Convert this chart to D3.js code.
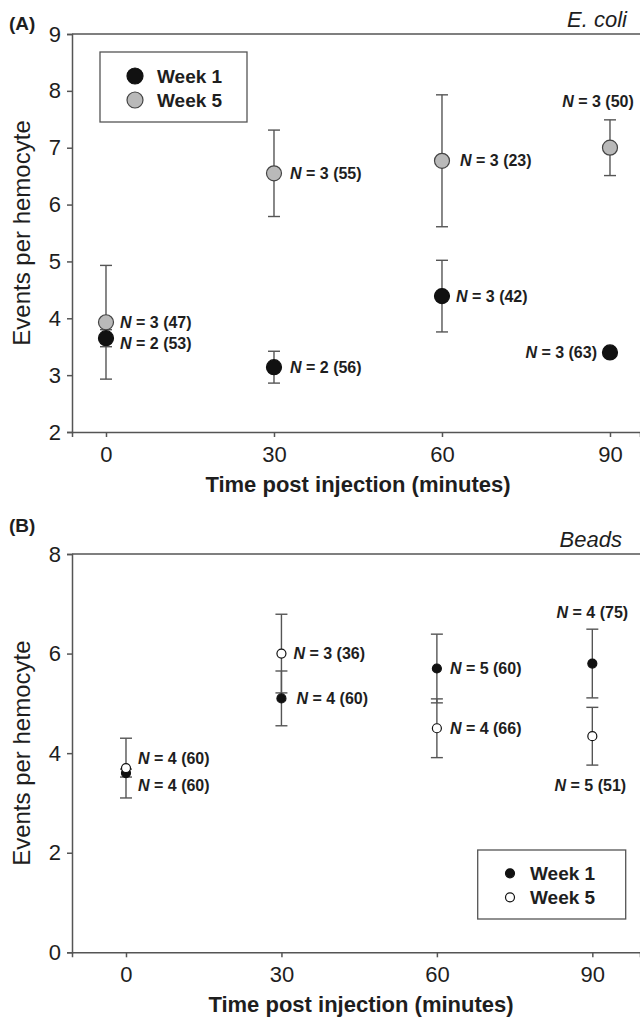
<!DOCTYPE html>
<html><head><meta charset="utf-8">
<script src="https://cdn.jsdelivr.net/npm/d3@7"></script>
<style>
body{margin:0;background:#fff}
svg{display:block}
text{font-family:"Liberation Sans",Arial,Helvetica,sans-serif;fill:#1e1e1e}
</style>
</head><body><svg id="c" width="640" height="1019"></svg>
<script>
// ---------- DATA ----------
const times = [0, 30, 60, 90];
const xTicks = [0, 30, 60, 90];
const seriesNames = ["Week 1", "Week 5"];

// Panel A: E. coli
const ecoliWeek1Mean = [3.65, 3.14, 4.39, 3.40];
const ecoliWeek1Err  = [0.15, 0.28, 0.63, 0.07];
const ecoliWeek5Mean = [3.93, 6.55, 6.77, 7.00];
const ecoliWeek5Err  = [1.00, 0.76, 1.16, 0.49];
const ecoliWeek1N = ["2 (53)", "2 (56)", "3 (42)", "3 (63)"];
const ecoliWeek5N = ["3 (47)", "3 (55)", "3 (23)", "3 (50)"];
const ecoliYTicks = [2, 3, 4, 5, 6, 7, 8, 9];

// Panel B: Beads
const beadsWeek1Mean = [3.60, 5.10, 5.70, 5.80];
const beadsWeek1Err  = [0.08, 0.55, 0.69, 0.69];
const beadsWeek5Mean = [3.70, 6.00, 4.50, 4.34];
const beadsWeek5Err  = [0.60, 0.79, 0.59, 0.58];
const beadsWeek1N = ["4 (60)", "4 (60)", "5 (60)", "4 (75)"];
const beadsWeek5N = ["4 (60)", "3 (36)", "4 (66)", "5 (51)"];
const beadsYTicks = [0, 2, 4, 6, 8];

// ---------- DRAW ----------
const svg = d3.select("#c");
svg.append("rect").attr("width", 640).attr("height", 1019).attr("fill", "#fff");
const AX = "#555";

function panel(cfg) {
  const g = svg.append("g");
  const x = d3.scaleLinear().domain(cfg.xDomain).range([72, 640]);
  const y = d3.scaleLinear().domain(cfg.yDomain).range([cfg.bottom, cfg.top]);

  // frame
  g.append("line").attr("x1", 72).attr("x2", 640).attr("y1", cfg.top).attr("y2", cfg.top)
    .attr("stroke", AX).attr("stroke-width", 1.5);

  const xa = g.append("g").attr("transform", `translate(0,${cfg.bottom})`)
    .call(d3.axisBottom(x).tickValues(xTicks).tickFormat(d3.format("d")).tickSize(5).tickPadding(9));
  const ya = g.append("g").attr("transform", `translate(72,0)`)
    .call(d3.axisLeft(y).tickValues(cfg.yTicks).tickFormat(d3.format("d")).tickSize(5).tickPadding(6));
  [xa, ya].forEach(a => {
    a.select(".domain").attr("stroke", AX).attr("stroke-width", 1.5);
    a.selectAll(".tick line").attr("stroke", AX).attr("stroke-width", 1.5);
    a.selectAll(".tick text").style("font-size", "22px").attr("fill", "#222")
      .style("font-family", '"Liberation Sans",Arial,sans-serif');
  });

  // titles
  g.append("text").attr("x", cfg.xTitleX).attr("y", cfg.bottom + 60)
    .attr("text-anchor", "middle").style("font-size", "22px").style("font-weight", "bold")
    .text("Time post injection (minutes)");
  g.append("text").attr("transform", `translate(30,${(cfg.top + cfg.bottom) / 2}) rotate(-90)`)
    .attr("text-anchor", "middle").style("font-size", "24px")
    .text("Events per hemocyte");
  g.append("text").attr("x", 9).attr("y", cfg.panelLabelY)
    .style("font-size", "19px").style("font-weight", "bold").text(cfg.panelLabel);
  g.append("text").attr("x", cfg.nameX).attr("y", cfg.top - 7).attr("text-anchor", "end")
    .style("font-size", "22px").style("font-style", "italic").text(cfg.name);

  const series = cfg.series;
  // error bars
  series.forEach(s => {
    times.forEach((t, i) => {
      const cx = x(t), lo = y(s.mean[i] - s.err[i]), hi = y(s.mean[i] + s.err[i]);
      g.append("line").attr("x1", cx).attr("x2", cx).attr("y1", lo).attr("y2", hi)
        .attr("stroke", AX).attr("stroke-width", 1.4);
      [lo, hi].forEach(yy => g.append("line").attr("x1", cx - 6).attr("x2", cx + 6)
        .attr("y1", yy).attr("y2", yy).attr("stroke", AX).attr("stroke-width", 1.4));
    });
  });
  // markers
  series.forEach(s => {
    g.selectAll(null).data(times).enter().append("circle")
      .attr("cx", t => x(t)).attr("cy", (t, i) => y(s.mean[i]))
      .attr("r", cfg.r).attr("fill", s.fill).attr("stroke", s.stroke).attr("stroke-width", 1.2);
  });
  // N labels
  series.forEach(s => {
    times.forEach((t, i) => {
      const p = s.place[i];
      const cx = x(t), cy = y(s.mean[i]);
      let tx, ty, anchor;
      if (p.side === "right") { tx = cx + p.dx; ty = cy + (p.dy || 0); anchor = "start"; }
      else if (p.side === "left") { tx = cx - p.dx; ty = cy + (p.dy || 0); anchor = "end"; }
      else if (p.side === "above") { tx = cx + (p.dxc || 0); ty = y(s.mean[i] + s.err[i]) - p.gap; anchor = "middle"; }
      else { tx = cx + (p.dxc || 0); ty = y(s.mean[i] - s.err[i]) + p.gap; anchor = "middle"; }
      const tt = g.append("text").attr("x", tx).attr("y", ty).attr("dy", "0.35em")
        .attr("text-anchor", anchor).style("font-size", "16px").style("font-weight", "bold");
      tt.append("tspan").style("font-style", "italic").text("N");
      tt.append("tspan").text(" = " + s.n[i]);
    });
  });
  // legend
  const L = cfg.legend;
  g.append("rect").attr("x", L.x).attr("y", L.y).attr("width", L.w).attr("height", L.h)
    .attr("fill", "#fff").attr("stroke", AX).attr("stroke-width", 1.3);
  series.forEach((s, k) => {
    const yy = L.y + L.firstRow + k * 24;
    g.append("circle").attr("cx", L.mx).attr("cy", yy).attr("r", L.r)
      .attr("fill", s.fill).attr("stroke", s.stroke).attr("stroke-width", 1.2);
    g.append("text").attr("x", L.tx).attr("y", yy).attr("dy", "0.35em")
      .style("font-size", "19px").style("font-weight", "bold").text(seriesNames[k]);
  });
}

panel({
  xDomain: [-6.07, 95.36], yDomain: [2, 9], yTicks: ecoliYTicks,
  top: 34, bottom: 432, r: 7.5, xTitleX: 358,
  panelLabel: "(A)", panelLabelY: 30, name: "E. coli", nameX: 627,
  series: [
    { mean: ecoliWeek1Mean, err: ecoliWeek1Err, n: ecoliWeek1N, fill: "#111", stroke: "#111",
      place: [{side:"right",dx:14,dy:5},{side:"right",dx:16},{side:"right",dx:14},{side:"left",dx:13}] },
    { mean: ecoliWeek5Mean, err: ecoliWeek5Err, n: ecoliWeek5N, fill: "#b9b9b9", stroke: "#444",
      place: [{side:"right",dx:14},{side:"right",dx:16},{side:"right",dx:18},{side:"above",gap:18,dxc:-12}] }
  ],
  legend: { x: 100, y: 52, w: 147, h: 70, firstRow: 24, mx: 135, tx: 157, r: 8 }
});

panel({
  xDomain: [-10.42, 99.2], yDomain: [0, 8], yTicks: beadsYTicks,
  top: 554, bottom: 952.3, r: 4.5, xTitleX: 361,
  panelLabel: "(B)", panelLabelY: 532, name: "Beads", nameX: 622,
  series: [
    { mean: beadsWeek1Mean, err: beadsWeek1Err, n: beadsWeek1N, fill: "#111", stroke: "#111",
      place: [{side:"right",dx:12,dy:12},{side:"right",dx:15},{side:"right",dx:13},{side:"above",gap:17,dxc:0}] },
    { mean: beadsWeek5Mean, err: beadsWeek5Err, n: beadsWeek5N, fill: "#fff", stroke: "#111",
      place: [{side:"right",dx:12,dy:-10},{side:"right",dx:12},{side:"right",dx:13},{side:"below",gap:20,dxc:-2}] }
  ],
  legend: { x: 477.7, y: 850, w: 148, h: 69, firstRow: 23.3, mx: 510, tx: 530, r: 4.5 }
});
</script>
</body></html>
